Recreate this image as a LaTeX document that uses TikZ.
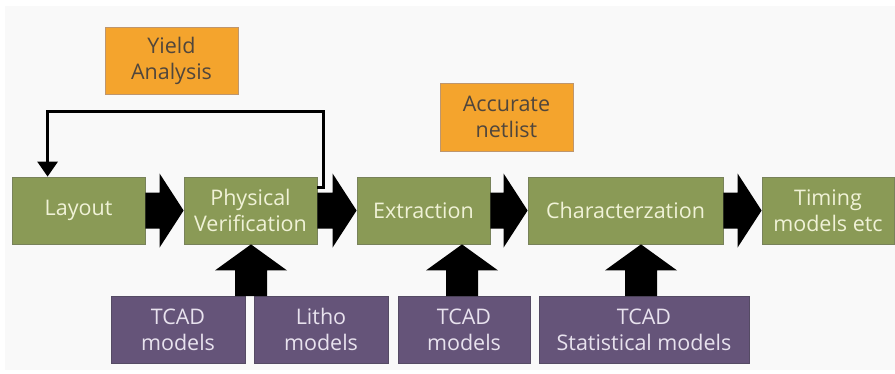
\documentclass[tikz,border=0pt]{standalone}
\usepackage{fontspec}
\setmainfont{Open Sans}
\usetikzlibrary{arrows.meta,calc}
\definecolor{bg}{RGB}{249,249,249}
\definecolor{grn}{RGB}{138,154,86}
\definecolor{grnb}{RGB}{120,130,90}
\definecolor{grntx}{RGB}{240,242,215}
\definecolor{prp}{RGB}{101,84,121}
\definecolor{prpb}{RGB}{85,75,100}
\definecolor{prptx}{RGB}{232,226,238}
\definecolor{org}{RGB}{244,164,45}
\definecolor{orgb}{RGB}{190,150,110}
\definecolor{orgtx}{RGB}{80,70,60}
\tikzset{
  box/.style={rectangle, inner sep=0pt, align=center, font=\fontsize{21.5}{26}\selectfont, line width=0.8pt},
  gbox/.style={box, fill=grn, draw=grnb, text=grntx, minimum height=67pt},
  pbox/.style={box, fill=prp, draw=prpb, text=prptx, minimum height=67pt},
  obox/.style={box, fill=org, draw=orgb, text=orgtx, minimum height=67pt},
  fb/.style={line width=3pt, draw=black},
}
\newcommand{\harrow}[2]{%
  \fill[black] let \p1=(#1.east), \p2=(#2.west) in
   (\x1,\y1+18pt) -- (\x2-24pt,\y1+18pt) -- (\x2-24pt,\y1+37pt) -- (\x2,\y1)
   -- (\x2-24pt,\y1-37pt) -- (\x2-24pt,\y1-18pt) -- (\x1,\y1-18pt) -- cycle;}
\newcommand{\varrow}[2]{%
  \fill[black] let \p1=(#1), \p2=(#2.south) in
   (\x1-16pt,\y1) -- (\x1-16pt,\y2-26pt) -- (\x1-36pt,\y2-26pt) -- (\x1,\y2)
   -- (\x1+36pt,\y2-26pt) -- (\x1+16pt,\y2-26pt) -- (\x1+16pt,\y1) -- cycle;}
\newcommand{\lh}{\vphantom{Lh}}
\begin{document}
\begin{tikzpicture}[x=1pt,y=-1pt]
\useasboundingbox (0,0) rectangle (895,373);
\fill[white] (0,0) rectangle (895,373);
\fill[bg] (5,6) rectangle (895,370);
% green chain
\node[gbox, minimum width=133pt] (lay) at (78.5,210.5) {Layout};
\node[gbox, minimum width=133pt] (pv) at (250.5,210.5) {Physical\\Verification};
\node[gbox, minimum width=133pt] (ext) at (423.5,210.5) {Extraction};
\node[gbox, minimum width=195pt] (chr) at (625.5,210.5) {Characterzation};
\node[gbox, minimum width=132pt] (tim) at (828,210.5) {Timing\\models etc};
% purple
\node[pbox, minimum width=134pt] (tc1) at (178,329.5) {TCAD\lh\\models};
\node[pbox, minimum width=134pt] (lit) at (321,329.5) {Litho\lh\\models};
\node[pbox, minimum width=132pt] (tc2) at (464,329.5) {TCAD\lh\\models};
\node[pbox, minimum width=210pt] (tcs) at (644,329.5) {TCAD\lh\\Statistical models};
% orange
\node[obox, minimum width=133pt] (yld) at (171.5,60.5) {Yield\\Analysis};
\node[obox, minimum width=133pt, minimum height=68pt] (acc) at (506.5,117) {Accurate\\netlist};
% horizontal block arrows
\harrow{lay}{pv}
\harrow{pv}{ext}
\harrow{ext}{chr}
\harrow{chr}{tim}
% vertical block arrows
\coordinate (v1) at (251,296);
\coordinate (v2) at (462,296);
\coordinate (v3) at (641,296);
\varrow{v1}{pv}
\varrow{v2}{ext}
\varrow{v3}{chr}
% feedback
\coordinate (fs) at ($(pv.north east)+(0,11)$);
\coordinate (fa) at ($(pv.north east)+(6,11)$);
\coordinate (fb) at ($(pv.north east)+(6,-65)$);
\coordinate (ft) at ($(lay.north west)+(36,0)$);
\draw[fb, -{Triangle[width=20pt,length=15pt]}] (fs) -- (fa) -- (fb) -- (fb -| ft) -- (ft);
\end{tikzpicture}
\end{document}
